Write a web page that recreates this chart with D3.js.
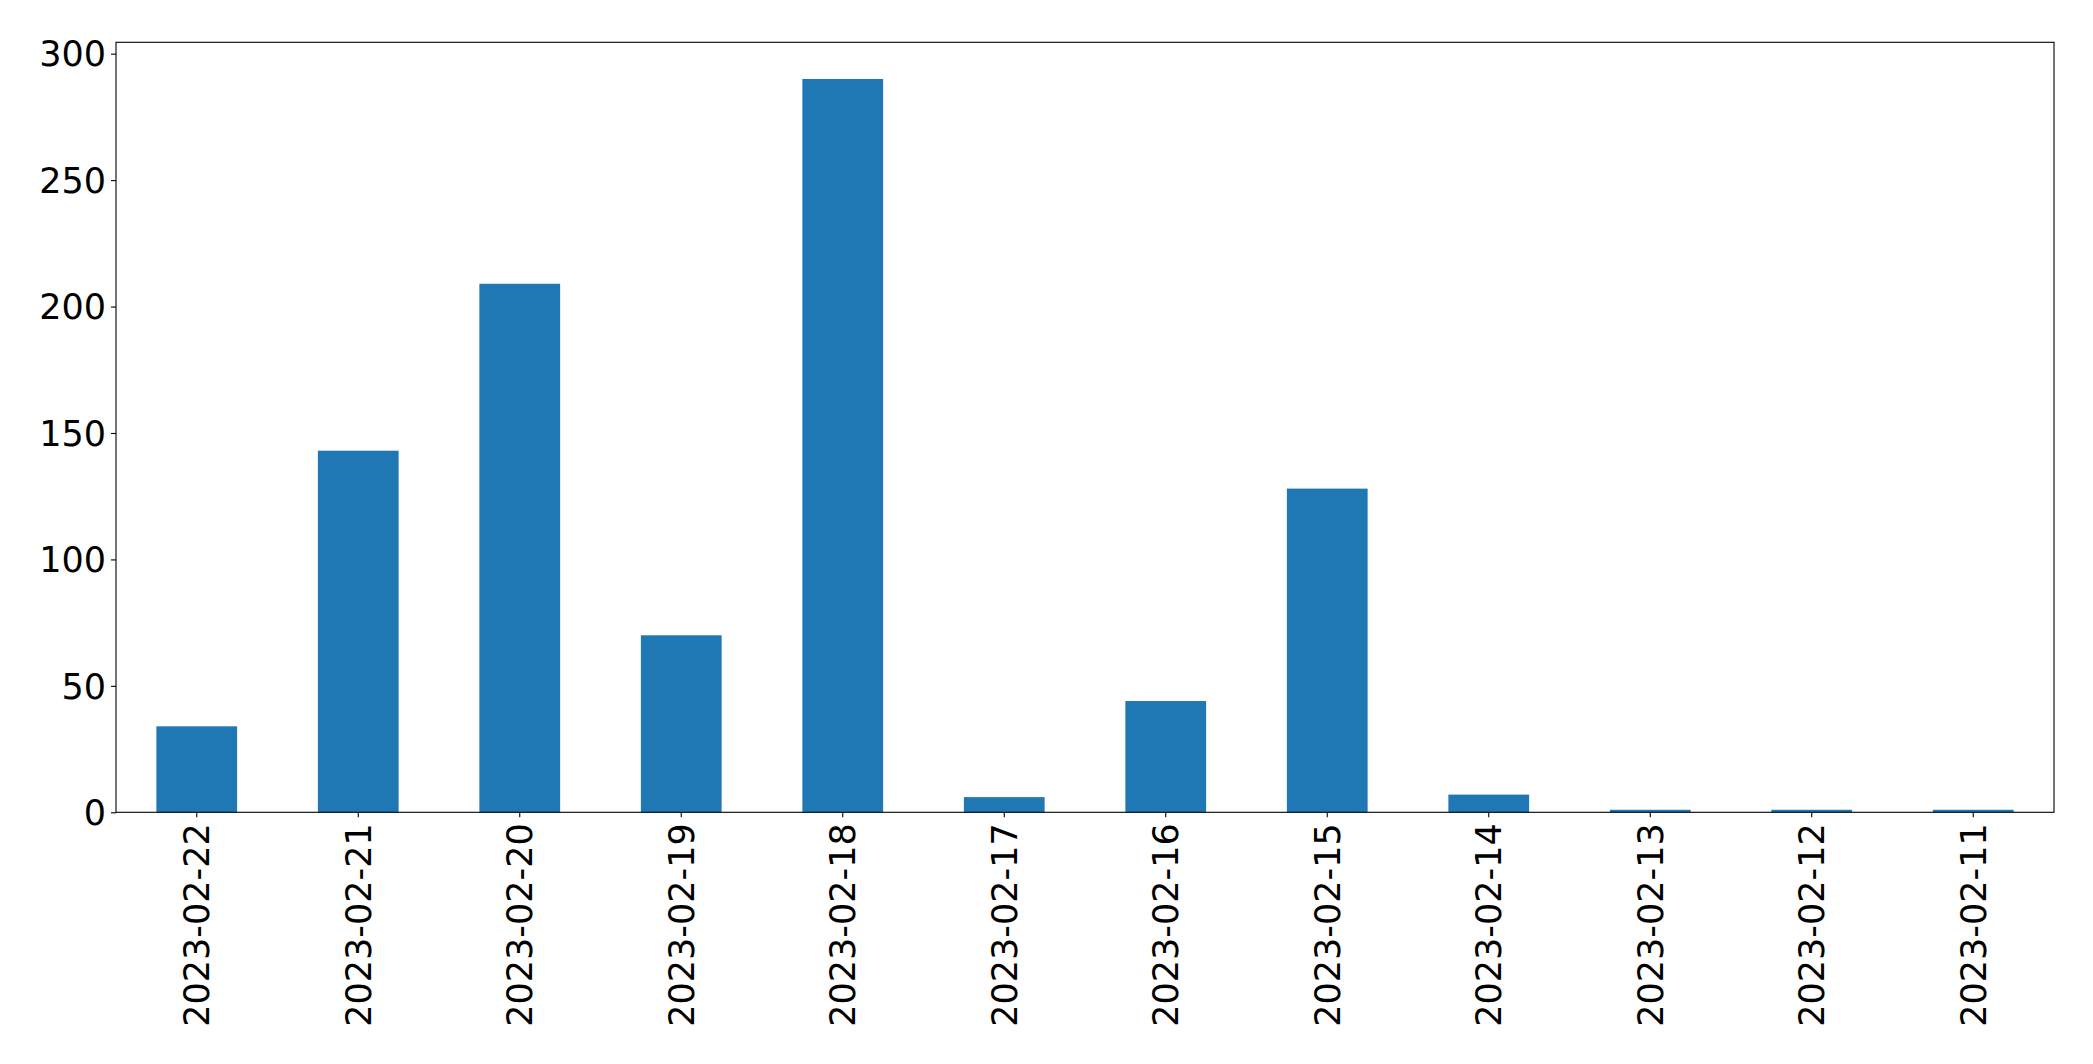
<!DOCTYPE html>
<html>
<head>
<meta charset="utf-8">
<script src="https://cdn.jsdelivr.net/npm/d3@7"></script>
<style>
  html, body { margin: 0; padding: 0; background: #fff; }
  svg { display: block; }
  .tick text { font-family: "DejaVu Sans", sans-serif; }
</style>
</head>
<body>
<svg id="chart" width="2093" height="1064"></svg>
<script>
const categories = ["2023-02-22","2023-02-21","2023-02-20","2023-02-19","2023-02-18","2023-02-17","2023-02-16","2023-02-15","2023-02-14","2023-02-13","2023-02-12","2023-02-11"];
const values = [34, 143, 209, 70, 290, 6, 44, 128, 7, 1, 1, 1];
const yTicks = [0, 50, 100, 150, 200, 250, 300];

const W = 2093, H = 1064;
const margin = {left: 116, top: 42.3, right: W - 2054, bottom: H - 812.3};
const iw = W - margin.left - margin.right;
const ih = H - margin.top - margin.bottom;

const svg = d3.select("#chart");
const g = svg.append("g").attr("transform", `translate(${margin.left},${margin.top})`);

const x = d3.scaleBand().domain(categories).range([0, iw]).paddingInner(0.5).paddingOuter(0.25);
const y = d3.scaleLinear().domain([0, d3.max(values) * 1.05]).range([ih, 0]);

g.selectAll("rect.bar").data(values).join("rect")
  .attr("class", "bar")
  .attr("x", (d, i) => x(categories[i]))
  .attr("width", x.bandwidth())
  .attr("y", d => y(d))
  .attr("height", d => y(0) - y(d))
  .attr("fill", "#1f77b4");

const fs = 35;
const yAxis = g.append("g")
  .call(d3.axisLeft(y).tickValues(yTicks).tickFormat(d3.format("d")).tickSize(5).tickPadding(5));
yAxis.select(".domain").remove();
yAxis.selectAll(".tick line").attr("stroke", "#000").attr("stroke-width", 1.1);
yAxis.selectAll(".tick text").attr("font-size", fs).attr("fill", "#000").attr("dy", "0.35em");

const xAxis = g.append("g").attr("transform", `translate(0,${ih})`)
  .call(d3.axisBottom(x).tickSize(5).tickPadding(5));
xAxis.select(".domain").remove();
xAxis.selectAll(".tick line").attr("stroke", "#000").attr("stroke-width", 1.1);
xAxis.selectAll(".tick text")
  .attr("font-size", fs).attr("fill", "#000")
  .attr("transform", "rotate(-90)")
  .attr("text-anchor", "end")
  .attr("x", -11).attr("y", 0).attr("dy", "0.35em");

g.append("rect").attr("x", 0).attr("y", 0).attr("width", iw).attr("height", ih)
  .attr("fill", "none").attr("stroke", "#000").attr("stroke-width", 1.1);
</script>
</body>
</html>
